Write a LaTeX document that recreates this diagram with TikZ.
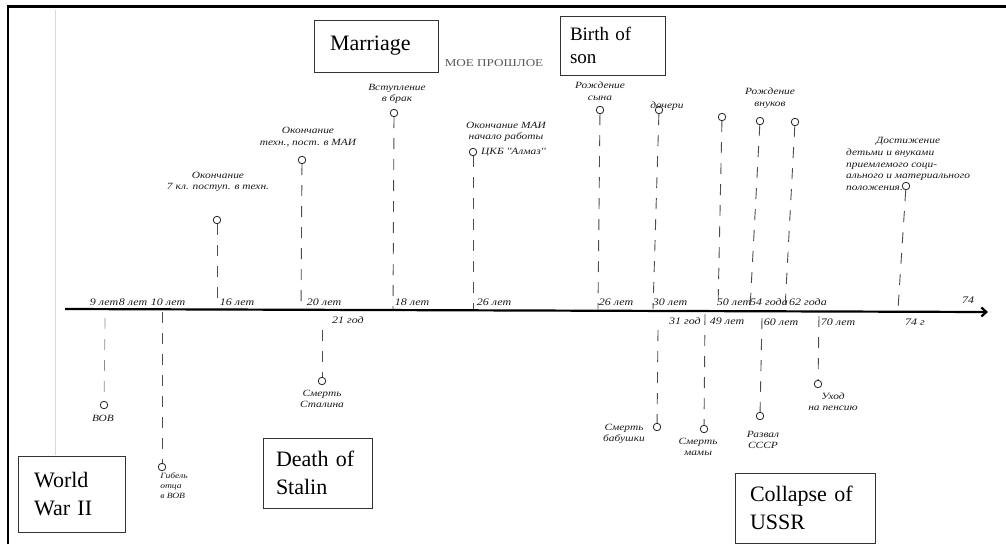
\documentclass[tikz,border=0pt]{standalone}
\usepackage{fontspec}
\setmainfont{Liberation Serif}
\newfontfamily\hand{Liberation Serif}[FakeStretch=1.2]
\newfontfamily\wide{Liberation Serif}[FakeStretch=1.25]
\usetikzlibrary{arrows.meta}
\begin{document}
\begin{tikzpicture}[x=1pt,y=-1pt,
  box/.style={draw=black!80, line width=0.8pt, align=left, inner ysep=0pt},
  big/.style={font=\fontsize{22}{28}\selectfont},
  hw/.style={font=\hand\itshape\fontsize{9.5}{11.5}\selectfont, text=black!90, align=center, inner sep=0pt},
  hws/.style={font=\hand\itshape\fontsize{8}{10}\selectfont, text=black!90, align=left, inner sep=0pt},
  tick/.style={font=\hand\itshape\fontsize{10}{12}\selectfont, text=black!90, inner sep=0pt},
  dot/.style={circle, draw=black!85, line width=0.8pt, minimum size=7.5pt, inner sep=0pt},
  hdash/.style={draw=black!70, line width=0.9pt, dash pattern=on 11pt off 10pt},
  axisline/.style={line width=2.2pt, -{Straight Barb[length=5pt,width=9pt]}}]
\useasboundingbox (0,0) rectangle (1006,544);
% frame
\coordinate (ftl) at (8,6.5);
\coordinate (ftr) at (1006,6.5);
\coordinate (fbl) at (8,544);
\draw[line width=2.2pt] (fbl) -- (ftl) -- (ftr);
\coordinate (gl1) at (55,10);
\coordinate (gl2) at (55,455);
\draw[black!15, line width=0.8pt] (gl1) -- (gl2);

% axis
\coordinate (axL) at (65,309);
\coordinate (axR) at (988,312);
\draw[axisline] (axL) -- (axR);

% typed boxes
\node[box, minimum width=124pt, minimum height=52pt, inner xsep=16pt, text width=92pt,
  font=\fontsize{22}{28}\selectfont] (marriage) at (376,46) {Marriage};
\node[box, minimum width=105pt, minimum height=59pt, inner xsep=10pt, text width=85pt,
  font=\fontsize{19}{23}\selectfont] (birth) at (612.5,45.5) {Birth of\\son};
\node[box, big, minimum width=107pt, minimum height=76pt, inner xsep=16pt, text width=75pt] (wwii) at (71.5,494) {World\\War II};
\node[box, big, minimum width=109pt, minimum height=70pt, inner xsep=13pt, text width=83pt] (stalin) at (317.5,473) {Death of\\Stalin};
\node[box, big, minimum width=140pt, minimum height=70pt, inner xsep=15pt, text width=110pt] (ussr) at (805,508) {Collapse of\\USSR};
\node[font=\wide\fontsize{10.5}{12}\selectfont, text=black!65, inner sep=0pt] (title) at (494,63) {МОЕ ПРОШЛОЕ};

% tick labels above axis
\node[tick] (t9) at (104,302) {9 лет};
\node[tick] (t8) at (133,302) {8 лет};
\node[tick] (t10) at (168,302) {10 лет};
\node[tick] (t16) at (237,302) {16 лет};
\node[tick] (t20) at (324,302) {20 лет};
\node[tick] (t18) at (412,302) {18 лет};
\node[tick] (t26a) at (494,302) {26 лет};
\node[tick] (t26b) at (616,302) {26 лет};
\node[tick] (t30) at (670,302) {30 лет};
\node[tick] (t50) at (734,302) {50 лет};
\node[tick] (t54) at (769,302) {54 года};
\node[tick] (t62) at (808,302) {62 года};
\node[tick] (t74) at (968,300) {74};
% tick labels below axis
\node[tick] (b21) at (348,320) {21 год};
\node[tick] (b31) at (685,321) {31 год};
\node[tick] (b49) at (727,321) {49 лет};
\node[tick] (b60) at (781,322) {60 лет};
\node[tick] (b70) at (838,322) {70 лет};
\node[tick] (b74) at (915,322) {74 г};

% events above the axis
\node[dot] (c1) at (217,220) {};
\coordinate (a1) at (217,309);
\draw[hdash] (c1) -- (a1);
\node[hw] (l1) at (218,182) {Окончание\\7 кл. поступ. в техн.};

\node[dot] (c2) at (302,160) {};
\coordinate (a2) at (301,309);
\draw[hdash] (c2) -- (a2);
\node[hw] (l2) at (308,137) {Окончание\\техн., пост. в МАИ};

\node[dot] (c3) at (394,113) {};
\coordinate (a3) at (393,309);
\draw[hdash] (c3) -- (a3);
\node[hw] (l3) at (397,94) {Вступление\\в брак};

\node[dot] (c4) at (473,152) {};
\coordinate (a4) at (473,309);
\draw[hdash] (c4) -- (a4);
\node[hw] (l4) at (506,132) {Окончание МАИ\\начало работы};
\node[hw, anchor=west] (l4b) at (481,152) {ЦКБ ''Алмаз''};

\node[dot] (c5) at (600,110) {};
\coordinate (a5) at (598,309);
\draw[hdash] (c5) -- (a5);
\node[hw] (l5) at (600,91) {Рождение\\сына};

\node[dot] (c6) at (659,110) {};
\coordinate (a6) at (653,309);
\draw[hdash] (c6) -- (a6);
\node[hw] (l6) at (667,106) {дочери};

\node[dot] (c7) at (722,117) {};
\coordinate (a7) at (718,309);
\draw[hdash] (c7) -- (a7);
\node[dot] (c8) at (760,121) {};
\coordinate (a8) at (750,309);
\draw[hdash] (c8) -- (a8);
\node[dot] (c9) at (795,122) {};
\coordinate (a9) at (785,309);
\draw[hdash] (c9) -- (a9);
\node[hw] (l7) at (770,98) {Рождение\\внуков};

\node[dot] (c10) at (906,186) {};
\coordinate (a10) at (898,309);
\draw[hdash] (c10) -- (a10);
\node[hw, align=left, anchor=north west, font=\hand\itshape\fontsize{9.5}{11.8}\selectfont] (l8) at (846,137)
  {\hspace*{30pt}Достижение\\детьми и внуками\\приемлемого соци-\\ального и материального\\положения.};

% events below the axis
\coordinate (d1) at (105,318);
\node[dot] (e1) at (104,405) {};
\draw[hdash, black!45, line width=0.7pt] (d1) -- (e1);
\node[hw] (m1) at (103,418) {ВОВ};

\coordinate (d2) at (162,312);
\node[dot] (e2) at (162,467) {};
\draw[hdash] (d2) -- (e2);
\node[hws] (m2) at (174,486) {Гибель\\отца\\в ВОВ};

\coordinate (d3) at (322,330);
\node[dot] (e3) at (322,381) {};
\draw[hdash] (d3) -- (e3);
\node[hw] (m3) at (322,399) {Смерть\\Сталина};

\coordinate (d4) at (658,330);
\node[dot] (e4) at (657,427) {};
\draw[hdash] (d4) -- (e4);
\node[hw] (m4) at (624,434) {Смерть\\бабушки};

\coordinate (d5) at (705,314);
\node[dot] (e5) at (704,429) {};
\draw[hdash] (d5) -- (e5);
\node[hw] (m5) at (698,447) {Смерть\\мамы};

\coordinate (d6) at (762,318);
\node[dot] (e6) at (760,416) {};
\draw[hdash] (d6) -- (e6);
\node[hw] (m6) at (763,440) {Развал\\СССР};

\coordinate (d7) at (819,316);
\node[dot] (e7) at (818,384) {};
\draw[hdash] (d7) -- (e7);
\node[hw] (m7) at (833,402) {Уход\\на пенсию};
\end{tikzpicture}
\end{document}
